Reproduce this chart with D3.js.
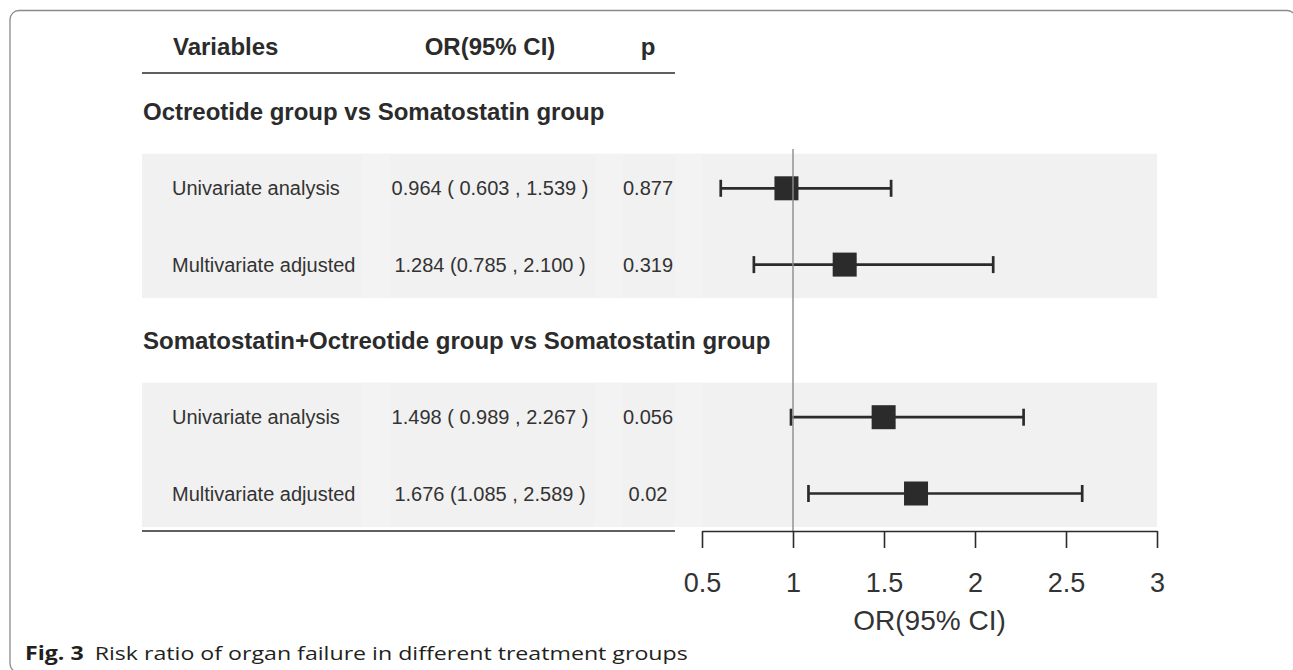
<!DOCTYPE html>
<html>
<head>
<meta charset="utf-8">
<script src="https://cdn.jsdelivr.net/npm/d3@7/dist/d3.min.js"></script>
<style>
  html, body { margin: 0; padding: 0; background: #fff; }
  svg { display: block; }
</style>
</head>
<body>
<svg id="chart" width="1293" height="670"></svg>
<script>
// Forest plot data: two comparisons, each with a univariate and an adjusted estimate
const groupTitles = [
  "Octreotide group vs Somatostatin group",
  "Somatostatin+Octreotide group vs Somatostatin group"
];
const rowLabels = ["Univariate analysis", "Multivariate adjusted", "Univariate analysis", "Multivariate adjusted"];
const rowGroup = [0, 0, 1, 1];
const orValues = [0.964, 1.284, 1.498, 1.676];
const ciLower = [0.603, 0.785, 0.989, 1.085];
const ciUpper = [1.539, 2.100, 2.267, 2.589];
const ciText = ["0.964 ( 0.603 , 1.539 )", "1.284 (0.785 , 2.100 )", "1.498 ( 0.989 , 2.267 )", "1.676 (1.085 , 2.589 )"];
const pValues = ["0.877", "0.319", "0.056", "0.02"];
const headers = ["Variables", "OR(95% CI)", "p"];
const xTicks = [0.5, 1, 1.5, 2, 2.5, 3];
const xTickLabels = ["0.5", "1", "1.5", "2", "2.5", "3"];
const xTitle = "OR(95% CI)";
const refValue = 1;

const svg = d3.select("#chart");
const ink = "#2b2b2b";
const textInk = "#333";
const sans = "'Liberation Sans', Arial, Helvetica, sans-serif";

// Outer figure frame
svg.append("rect")
  .attr("x", 10).attr("y", 10.5)
  .attr("width", 1286).attr("height", 662)
  .attr("rx", 9).attr("ry", 9)
  .attr("fill", "none").attr("stroke", "#8a8a8a").attr("stroke-width", 1.3);

// Scales
const x = d3.scaleLinear().domain([0.5, 3]).range([702, 1157]);
// slot 0 = first group title, then rows/titles in order
const y = d3.scaleLinear().domain([0, 5]).range([112, 493.5]);

// Layout of slots: title, row, row, title, row, row
const slots = [];
let s = 0;
groupTitles.forEach((t, g) => {
  slots.push({ type: "title", g, text: t, slot: s++ });
  rowLabels.forEach((lab, i) => {
    if (rowGroup[i] === g) slots.push({ type: "row", g, i, slot: s++ });
  });
});
const rowSlots = slots.filter(d => d.type === "row");

// Table columns
const colLabelX = 172, colCiX = 490, colPX = 648;
const tableLeft = 142, tableRight = 675;

// Shaded bands behind each group's rows
groupTitles.forEach((t, g) => {
  const rs = rowSlots.filter(d => d.g === g);
  const top = y(rs[0].slot) - 34.5;
  const bot = y(rs[rs.length - 1].slot) + 33.5;
  svg.append("rect")
    .attr("x", tableLeft).attr("y", top)
    .attr("width", x(3) - tableLeft).attr("height", bot - top)
    .attr("fill", "#f1f1f1");
  // faint cell seams between table columns
  [[362, 390], [595, 623], [675, 702]].forEach(([a, b]) => {
    svg.append("rect")
      .attr("x", a).attr("y", top).attr("width", b - a).attr("height", bot - top)
      .attr("fill", "#f3f3f3");
  });
});

// Header row
const headerY = 47;
svg.append("text").attr("x", 173).attr("y", headerY).attr("dy", "0.35em")
  .attr("font-family", sans).attr("font-weight", "bold").attr("font-size", 24)
  .attr("fill", ink).text(headers[0]);
svg.append("text").attr("x", colCiX).attr("y", headerY).attr("dy", "0.35em")
  .attr("text-anchor", "middle")
  .attr("font-family", sans).attr("font-weight", "bold").attr("font-size", 24)
  .attr("fill", ink).text(headers[1]);
svg.append("text").attr("x", colPX).attr("y", headerY).attr("dy", "0.35em")
  .attr("text-anchor", "middle")
  .attr("font-family", sans).attr("font-weight", "bold").attr("font-size", 24)
  .attr("fill", ink).text(headers[2]);

// Rules above and below the table body
svg.append("line").attr("x1", tableLeft).attr("x2", tableRight)
  .attr("y1", 73).attr("y2", 73).attr("stroke", ink).attr("stroke-width", 1.6);
svg.append("line").attr("x1", tableLeft).attr("x2", tableRight)
  .attr("y1", 531).attr("y2", 531).attr("stroke", ink).attr("stroke-width", 1.6);

// Group titles
svg.selectAll("text.gtitle").data(slots.filter(d => d.type === "title"))
  .join("text").attr("class", "gtitle")
  .attr("x", 143).attr("y", d => y(d.slot)).attr("dy", "0.35em")
  .attr("font-family", sans).attr("font-weight", "bold").attr("font-size", 24)
  .attr("fill", ink).text(d => d.text);

// Table text per row
const rowsG = svg.selectAll("g.row").data(rowSlots).join("g").attr("class", "row");
rowsG.append("text").attr("x", colLabelX).attr("y", d => y(d.slot)).attr("dy", "0.35em")
  .attr("font-family", sans).attr("font-size", 20).attr("fill", textInk)
  .text(d => rowLabels[d.i]);
rowsG.append("text").attr("x", colCiX).attr("y", d => y(d.slot)).attr("dy", "0.35em")
  .attr("text-anchor", "middle")
  .attr("font-family", sans).attr("font-size", 20).attr("fill", textInk)
  .text(d => ciText[d.i]);
rowsG.append("text").attr("x", colPX).attr("y", d => y(d.slot)).attr("dy", "0.35em")
  .attr("text-anchor", "middle")
  .attr("font-family", sans).attr("font-size", 20).attr("fill", textInk)
  .text(d => pValues[d.i]);

// Reference line at OR = 1
svg.append("line")
  .attr("x1", x(refValue)).attr("x2", x(refValue))
  .attr("y1", 149).attr("y2", 531)
  .attr("stroke", "#8c8c8c").attr("stroke-width", 1.4);

// Confidence intervals with end caps
const capH = 8.5;
const ciW = 2.7;
rowsG.append("line")
  .attr("x1", d => x(ciLower[d.i])).attr("x2", d => x(ciUpper[d.i]))
  .attr("y1", d => y(d.slot)).attr("y2", d => y(d.slot))
  .attr("stroke", ink).attr("stroke-width", ciW);
rowsG.append("line")
  .attr("x1", d => x(ciLower[d.i])).attr("x2", d => x(ciLower[d.i]))
  .attr("y1", d => y(d.slot) - capH).attr("y2", d => y(d.slot) + capH)
  .attr("stroke", ink).attr("stroke-width", ciW);
rowsG.append("line")
  .attr("x1", d => x(ciUpper[d.i])).attr("x2", d => x(ciUpper[d.i]))
  .attr("y1", d => y(d.slot) - capH).attr("y2", d => y(d.slot) + capH)
  .attr("stroke", ink).attr("stroke-width", ciW);

// Point estimates
const sq = 24;
rowsG.append("rect")
  .attr("x", d => x(orValues[d.i]) - sq / 2)
  .attr("y", d => y(d.slot) - sq / 2)
  .attr("width", sq).attr("height", sq)
  .attr("fill", ink);

// X axis
const axis = d3.axisBottom(x)
  .tickValues(xTicks)
  .tickFormat((d, i) => xTickLabels[i])
  .tickSize(17).tickSizeOuter(0);
const axG = svg.append("g").attr("transform", "translate(0,531)").call(axis);
axG.select(".domain").attr("stroke", ink).attr("stroke-width", 1.6);
axG.selectAll(".tick line").attr("stroke", ink).attr("stroke-width", 1.6);
axG.selectAll(".tick text")
  .attr("y", 52).attr("dy", "0.35em")
  .attr("font-family", sans).attr("font-size", 27).attr("fill", textInk);

svg.append("text")
  .attr("x", (x(0.5) + x(3)) / 2).attr("y", 620).attr("dy", "0.35em")
  .attr("text-anchor", "middle")
  .attr("font-family", sans).attr("font-size", 28).attr("fill", textInk)
  .text(xTitle);

// Figure caption, horizontally condensed to its column width
const capG = svg.append("g");
const cap = capG.append("text")
  .attr("x", 0).attr("y", 0).attr("dy", "0.35em")
  .attr("font-family", "'Open Sans', 'Noto Sans', sans-serif")
  .attr("font-size", 19).attr("fill", "#231f20");
cap.append("tspan").attr("font-weight", "bold").text("Fig. 3");
cap.append("tspan").attr("dx", 9).text("Risk ratio of organ failure in different treatment groups");
const capW = cap.node().getBBox().width;
const capScale = capW > 0 ? 663 / capW : 1;
capG.attr("transform", `translate(25,653) scale(${capScale},1)`);
</script>
</body>
</html>
